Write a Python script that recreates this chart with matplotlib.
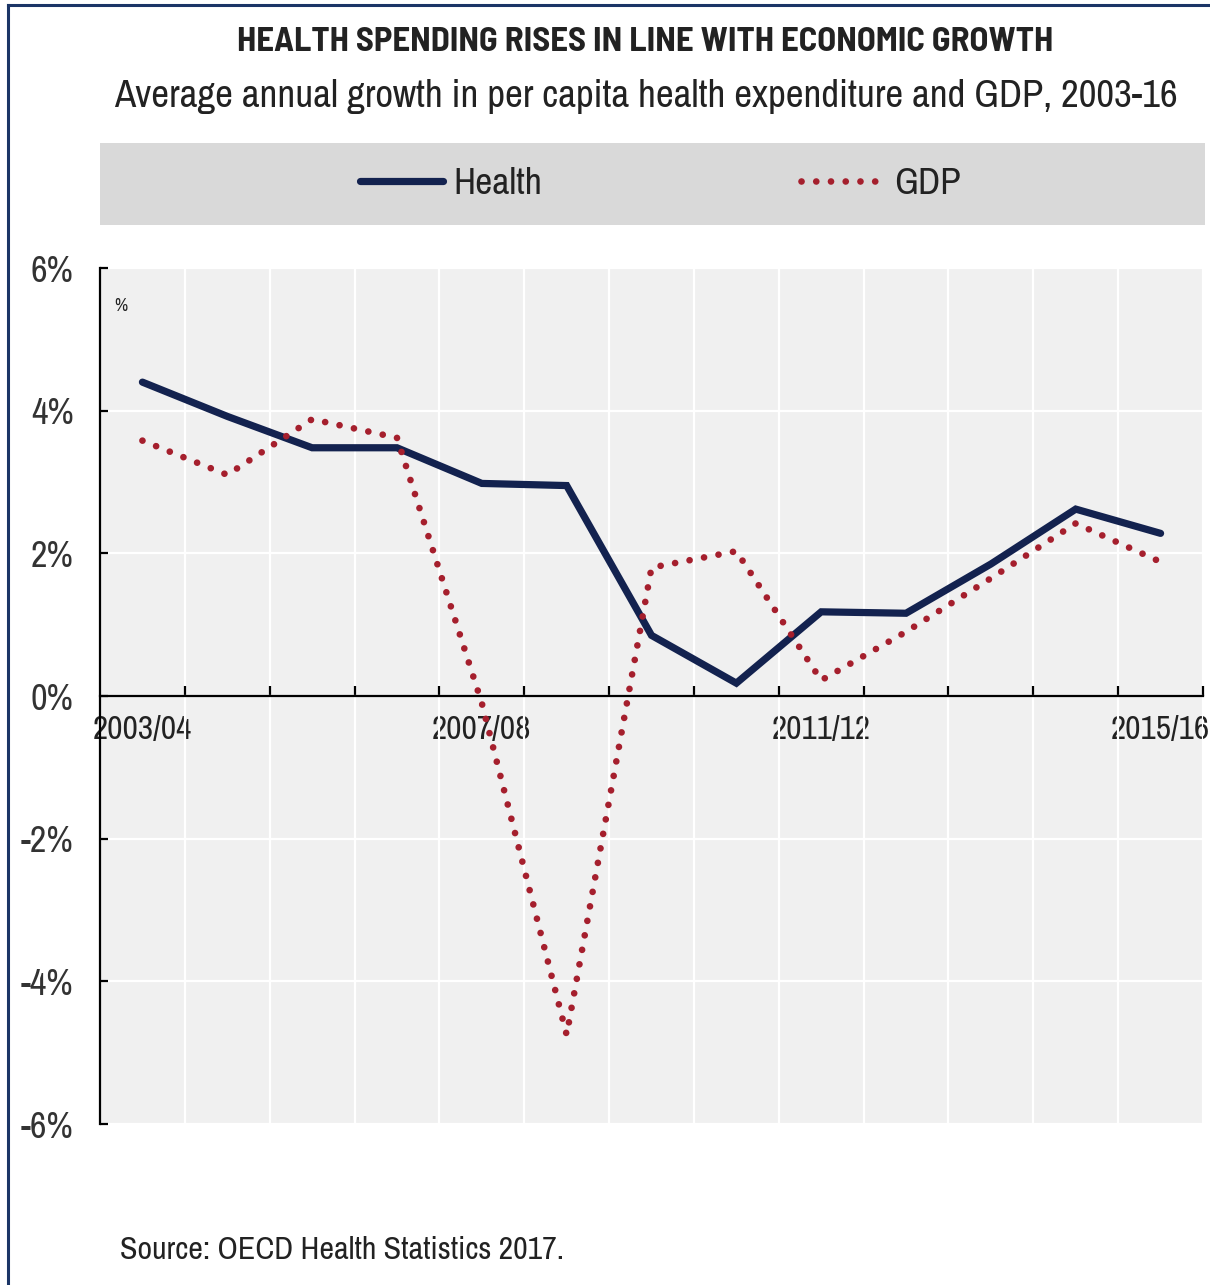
#!/usr/bin/env python3
# -*- coding: utf-8 -*-
"""Health spending vs GDP growth, OECD average 2003-16."""

import numpy as np
import matplotlib

matplotlib.use("Agg")
import matplotlib.pyplot as plt
from matplotlib.lines import Line2D

plt.rcParams["font.family"] = ["Archivo Narrow", "DejaVu Sans"]

years = ["2003/04", "2004/05", "2005/06", "2006/07", "2007/08", "2008/09", "2009/10",
         "2010/11", "2011/12", "2012/13", "2013/14", "2014/15", "2015/16"]
health = [4.40, 3.92, 3.48, 3.48, 2.98, 2.95, 0.85, 0.18, 1.18, 1.16, 1.85, 2.62, 2.28]
gdp = [3.58, 3.10, 3.88, 3.62, -0.10, -4.75, 1.80, 2.03, 0.22, 0.90, 1.65, 2.42, 1.88]
y_ticks = [-6, -4, -2, 0, 2, 4, 6]

NAVY = "#13224f"
RED = "#a51f2d"
TXT = "#222222"


def main():
    fig = plt.figure(figsize=(12.10, 12.85), dpi=100)
    fig.patch.set_facecolor("white")

    # thin frame on the left and top edges
    fig.add_artist(Line2D([8 / 1210, 8 / 1210], [0, 1 - 5 / 1285],
                          transform=fig.transFigure, color="#1b3566", lw=2.2))
    fig.add_artist(Line2D([8 / 1210, 1], [1 - 5 / 1285, 1 - 5 / 1285],
                          transform=fig.transFigure, color="#1b3566", lw=2.2))

    fig.text(0.533, 1 - 42 / 1285, "HEALTH SPENDING RISES IN LINE WITH ECONOMIC GROWTH",
             ha="center", va="center", fontsize=25, fontweight="bold", color=TXT,
             family=["Barlow Semi Condensed", "DejaVu Sans"])
    fig.text(0.534, 1 - 97 / 1285,
             "Average annual growth in per capita health expenditure and GDP, 2003-16",
             ha="center", va="center", fontsize=28, color=TXT)

    x = np.arange(len(years))

    ax = fig.add_axes([100 / 1210, 1 - 1124 / 1285, 1103 / 1210, 856 / 1285])
    ax.set_facecolor("#f0f0f0")
    ln_h, = ax.plot(x, health, color=NAVY, lw=5.2, solid_capstyle="round",
                    solid_joinstyle="miter", label="Health", zorder=3)
    ln_g, = ax.plot(x, gdp, color=RED, lw=4.8, linestyle=(0, (0.01, 2.2)),
                    dash_capstyle="round", label="GDP", zorder=4)

    ax.set_xlim(-0.5, len(years) - 0.5)
    ax.set_ylim(-6, 6)

    ax.spines["top"].set_visible(False)
    ax.spines["right"].set_visible(False)
    ax.spines["bottom"].set_position(("data", 0))
    ax.spines["bottom"].set_linewidth(1.6)
    ax.spines["left"].set_linewidth(1.6)

    ax.set_xticks(x[::4])
    ax.set_xticklabels(years[::4])
    ax.set_xticks(np.arange(0.5, len(years)), minor=True)
    ax.tick_params(axis="x", which="major", length=0, pad=14, labelsize=24, labelcolor=TXT)
    ax.tick_params(axis="x", which="minor", direction="in", length=7, width=1.6)

    ax.set_yticks(y_ticks)
    ax.set_yticklabels([f"{v}%" for v in y_ticks])
    ax.tick_params(axis="y", direction="in", length=6, width=1.6, pad=19,
                   labelsize=26, labelcolor="#333333")

    ax.grid(axis="y", which="major", color="white", lw=1.6)
    ax.grid(axis="x", which="minor", color="white", lw=1.6)
    ax.set_axisbelow(True)

    ax.text(0.013, 0.965, "%", transform=ax.transAxes, fontsize=13,
            ha="left", va="top", color=TXT)

    # legend band above the plot
    lax = fig.add_axes([100 / 1210, 1 - 225 / 1285, 1105 / 1210, 82 / 1285])
    lax.set_facecolor("#d9d9d9")
    lax.set_xticks([])
    lax.set_yticks([])
    for s in lax.spines.values():
        s.set_visible(False)
    lax.legend([ln_h, ln_g], ["Health", "GDP"], loc="center", ncol=2, frameon=False,
               fontsize=27, handlelength=2.2, handletextpad=0.28, columnspacing=6.9,
               labelcolor=TXT, bbox_to_anchor=(0.507, 0.5))

    fig.text(120 / 1210, 1 - 1250 / 1285, "Source: OECD Health Statistics 2017.",
             ha="left", va="center", fontsize=23, color=TXT)

    fig.savefig("out.png", dpi=100)
    plt.close(fig)


if __name__ == "__main__":
    main()
